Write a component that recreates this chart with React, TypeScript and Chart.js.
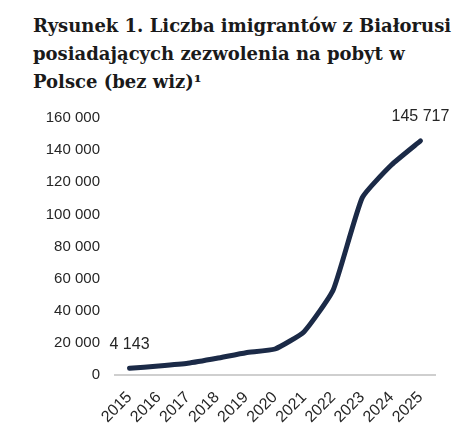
import React, { useEffect, useRef } from "react";
import { Chart, registerables } from "chart.js";

Chart.register(...registerables);

const TITLE_LINES = [
  "Rysunek 1. Liczba imigrantów z Białorusi",
  "posiadających zezwolenia na pobyt w",
  "Polsce (bez wiz)¹",
];
const YEARS = ["2015", "2016", "2017", "2018", "2019", "2020", "2021", "2022", "2023", "2024", "2025"];
const IMMIGRANTS = [4143, 5600, 7300, 10400, 13900, 16200, 27000, 52900, 110400, 130700, 145717];
const LABELLED_INDICES = [0, 10];
const Y_MAX = 160000;
const Y_STEP = 20000;

const TICK_FONT = "'Liberation Sans', Arial, sans-serif";

function fmt(v: number): string {
  return String(Math.round(v)).replace(/\B(?=(\d{3})+(?!\d))/g, " ");
}

const endLabels = {
  id: "endLabels",
  afterDatasetsDraw(chart: any) {
    const meta = chart.getDatasetMeta(0);
    const ctx = chart.ctx;
    ctx.save();
    ctx.font = `16px ${TICK_FONT}`;
    ctx.fillStyle = "#262626";
    ctx.textAlign = "center";
    ctx.textBaseline = "middle";
    LABELLED_INDICES.forEach((i) => {
      const p = meta.data[i];
      ctx.fillText(fmt(IMMIGRANTS[i]), p.x, p.y - 24);
    });
    ctx.restore();
  },
};

const zeroPad = (s: any) => {
  s.paddingTop = 0;
  s.paddingBottom = 0;
  s.paddingLeft = 0;
  s.paddingRight = 0;
};

export default function App() {
  const ref = useRef<HTMLCanvasElement>(null);
  useEffect(() => {
    document.body.style.margin = "0";
    const chart = new Chart(ref.current!, {
      type: "line",
      data: {
        labels: YEARS,
        datasets: [
          {
            data: IMMIGRANTS,
            borderColor: "#1b2a47",
            borderWidth: 5,
            pointRadius: 0,
            tension: 0.15,
            borderCapStyle: "round",
            borderJoinStyle: "round",
          },
        ],
      },
      options: {
        animation: false,
        responsive: false,
        layout: { padding: { top: 18, right: 41, left: 0, bottom: 0 } },
        plugins: { legend: { display: false }, tooltip: { enabled: false } },
        scales: {
          x: {
            offset: true,
            grid: { display: false, drawTicks: false },
            border: { display: true, color: "#cfcfcf", width: 2 },
            ticks: {
              color: "#262626",
              font: { family: TICK_FONT, size: 16 },
              minRotation: 45,
              maxRotation: 45,
              padding: 13,
              autoSkip: false,
            },
            afterFit: (s: any) => {
              s.height = 61;
              zeroPad(s);
            },
          },
          y: {
            min: 0,
            max: Y_MAX,
            grid: { display: false, drawTicks: false },
            border: { display: false },
            ticks: {
              stepSize: Y_STEP,
              color: "#262626",
              font: { family: TICK_FONT, size: 15 },
              padding: 15,
              callback: (v: any) => fmt(Number(v)),
            },
            afterFit: (s: any) => {
              s.width = 115;
              zeroPad(s);
            },
          },
        },
      },
      plugins: [endLabels],
    });
    return () => chart.destroy();
  }, []);

  return (
    <div style={{ position: "relative", width: 476, height: 436, background: "#fff", overflow: "hidden" }}>
      <div
        style={{
          position: "absolute",
          left: 33,
          top: 12,
          fontFamily: "'DejaVu Serif', serif",
          fontWeight: "bold",
          fontSize: 18,
          lineHeight: "28px",
          color: "#1a1a1a",
          whiteSpace: "nowrap",
        }}
      >
        {TITLE_LINES.map((l, i) => (
          <div key={i}>{l}</div>
        ))}
      </div>
      <canvas ref={ref} width={476} height={336} style={{ position: "absolute", left: 0, top: 100 }} />
    </div>
  );
}
